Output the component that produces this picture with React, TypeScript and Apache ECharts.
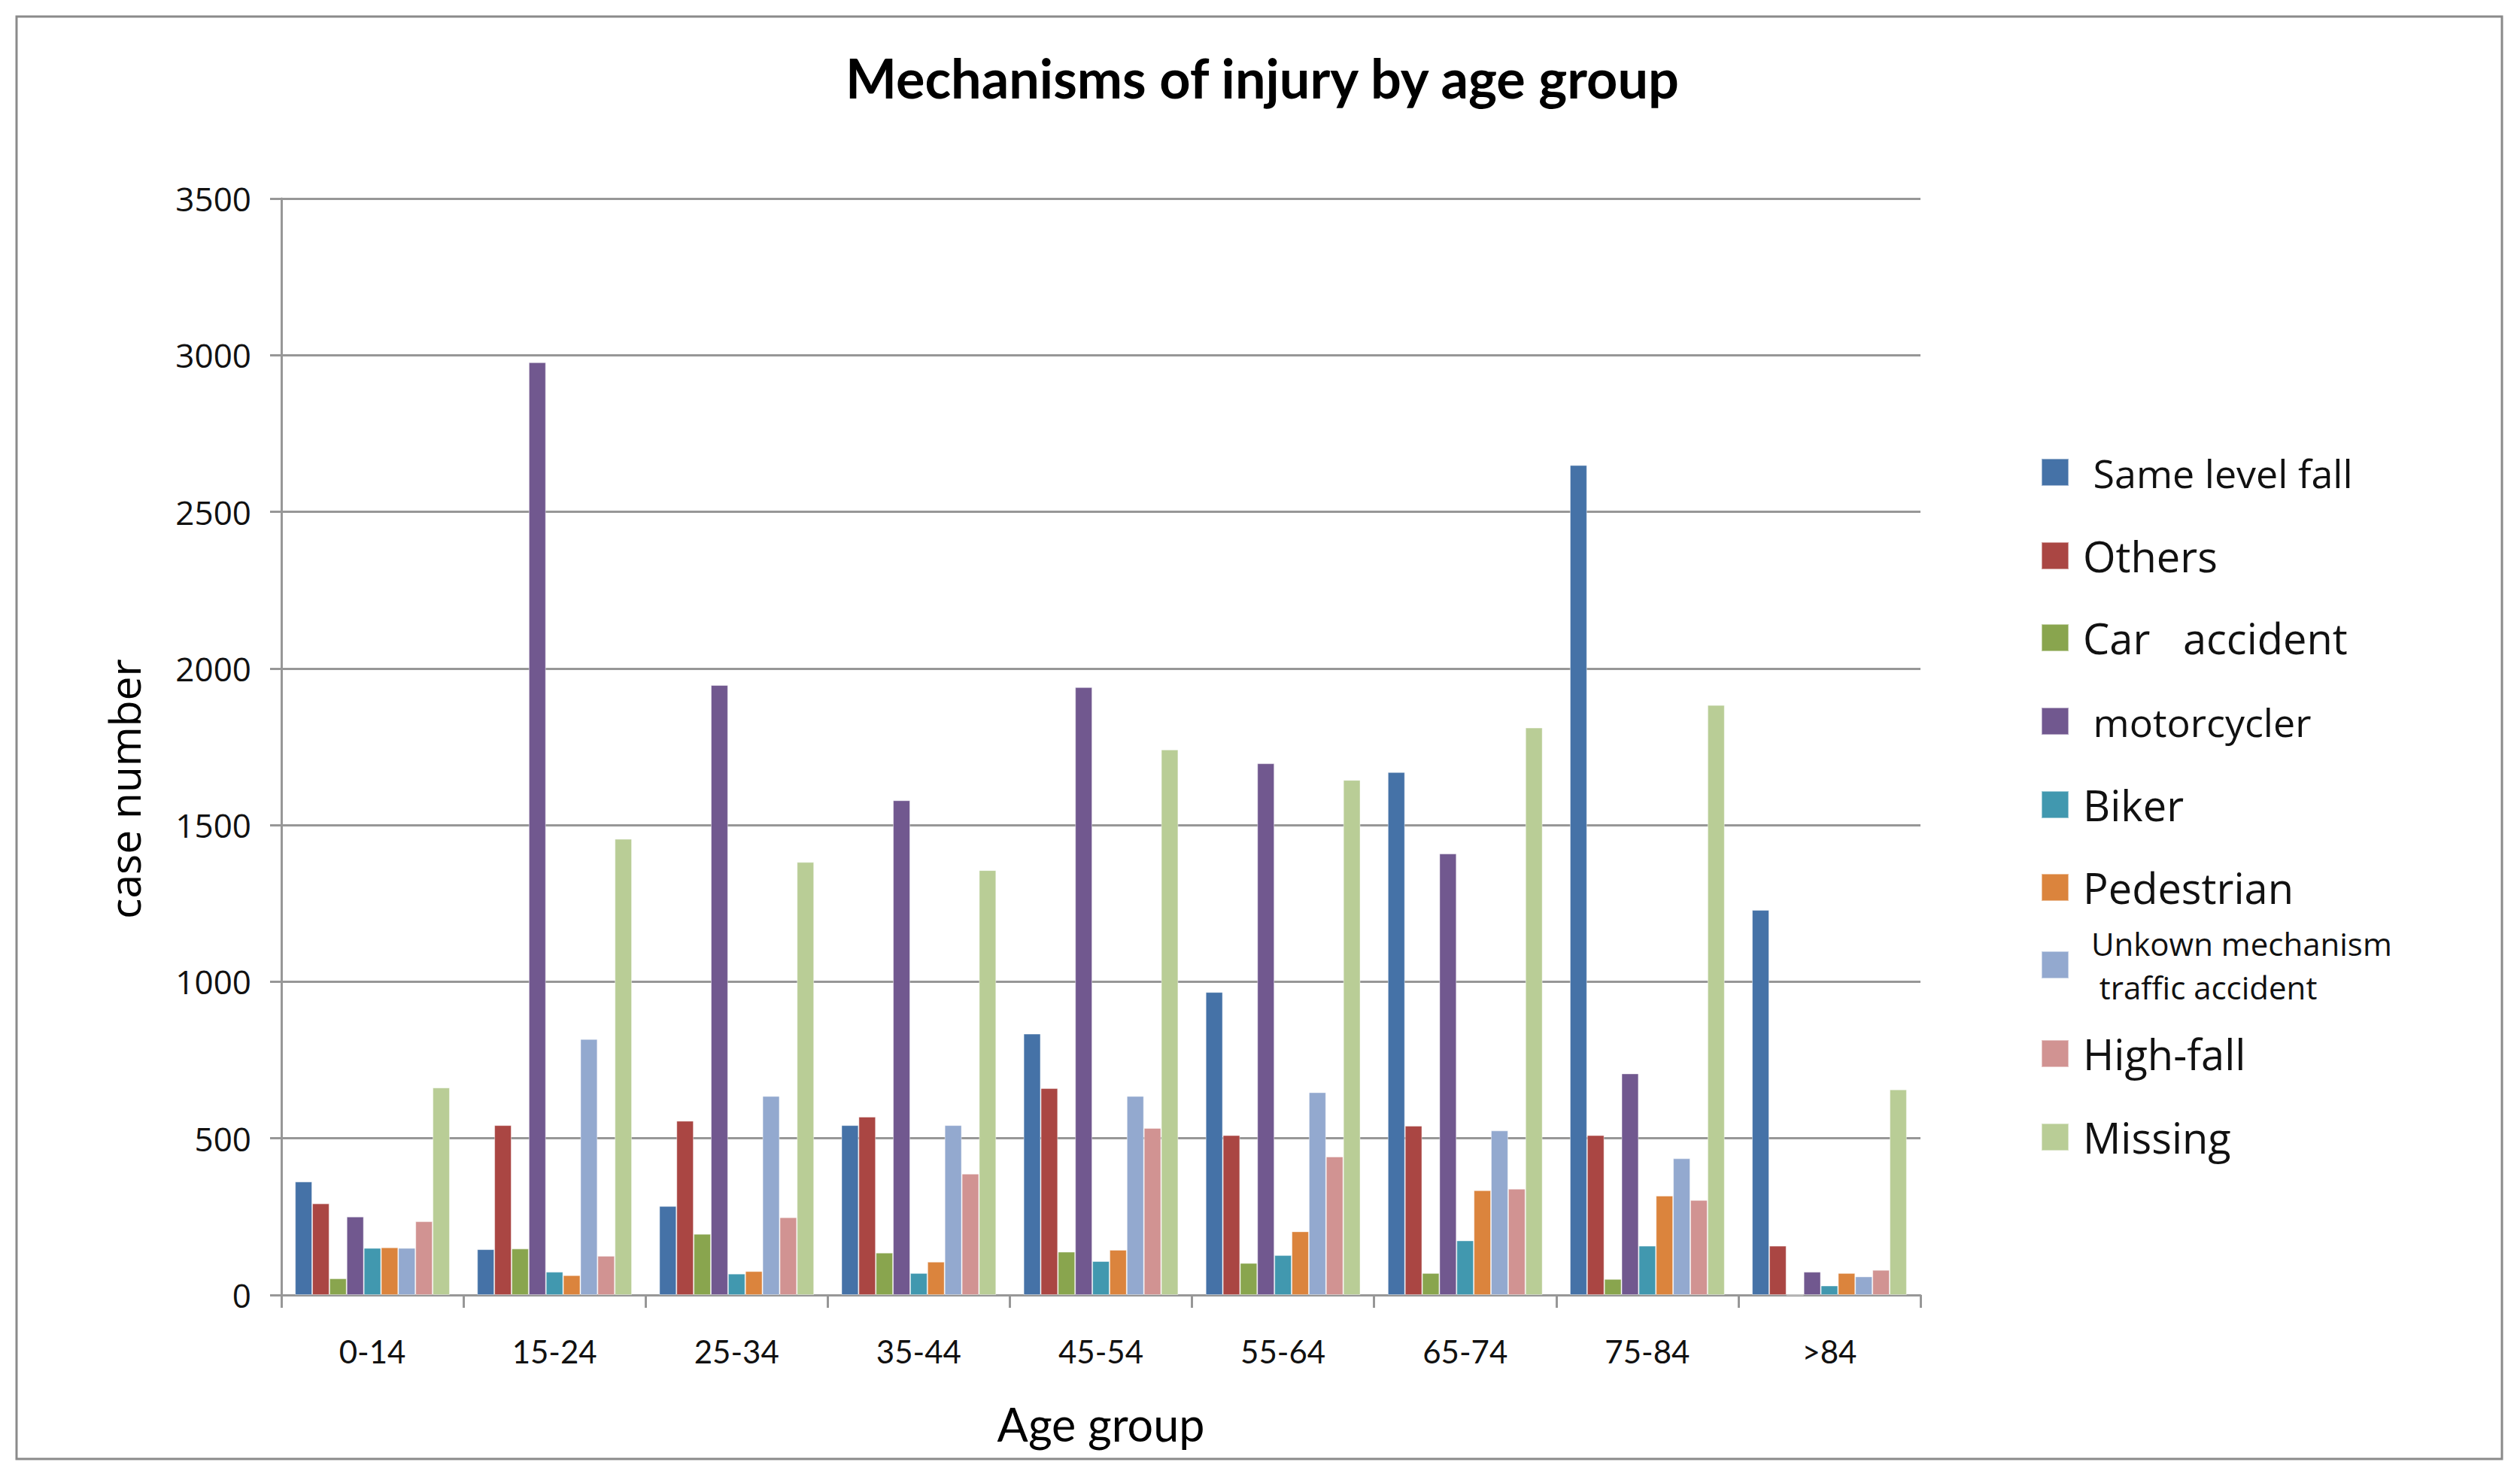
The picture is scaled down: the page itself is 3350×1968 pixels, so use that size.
import React, { useEffect, useRef } from "react";
import * as echarts from "echarts";

const categories = ["0-14", "15-24", "25-34", "35-44", "45-54", "55-64", "65-74", "75-84", ">84"];
const yTicks = [0, 500, 1000, 1500, 2000, 2500, 3000, 3500];

const sameLevelFall = [362, 146, 284, 542, 834, 967, 1669, 2649, 1229];
const others = [292, 542, 556, 569, 660, 510, 540, 510, 157];
const carAccident = [53, 148, 195, 135, 138, 102, 70, 51, 0];
const motorcycler = [250, 2977, 1947, 1579, 1940, 1697, 1409, 707, 74];
const biker = [150, 74, 68, 70, 108, 127, 174, 157, 30];
const pedestrian = [152, 63, 76, 106, 144, 203, 334, 317, 70];
const unknownTraffic = [150, 817, 635, 542, 635, 647, 525, 436, 59];
const highFall = [235, 125, 248, 387, 533, 442, 339, 303, 80];
const missing = [662, 1456, 1382, 1356, 1741, 1644, 1811, 1883, 656];

const seriesNames = [
  "Same level fall",
  "Others",
  "Car  accident",
  "motorcycler",
  "Biker",
  "Pedestrian",
  "Unkown mechanism traffic accident",
  "High-fall",
  "Missing",
];
const legendLabels = [
  " Same level fall",
  "Others",
  "Car   accident",
  " motorcycler",
  "Biker",
  "Pedestrian",
  " Unkown mechanism\n  traffic accident",
  "High-fall",
  "Missing",
];
const seriesColors = ["#4572A7", "#AA4643", "#89A54E", "#71588F", "#4198AF", "#DB843D", "#93A9CF", "#D19392", "#B9CD96"];
const seriesData = [sameLevelFall, others, carAccident, motorcycler, biker, pedestrian, unknownTraffic, highFall, missing];

const legendCenters = [628, 739, 848, 959, 1070, 1180, 1283, 1401, 1512];

export default function App() {
  const ref = useRef<HTMLDivElement>(null);
  useEffect(() => {
    if (!ref.current) return;
    const chart = echarts.init(ref.current, undefined, { renderer: "svg" });
    const gray = "#979797";
    const legends = seriesNames.map((name, i) => {
      const twoLine = i === 6;
      const fs = twoLine ? 42 : i === 0 || i === 3 ? 52 : 56;
      const lh = twoLine ? 58 : 70;
      const h = twoLine ? 116 : 70;
      return {
        orient: "vertical",
        left: 2713,
        top: legendCenters[i] - h / 2,
        padding: 0,
        itemWidth: 36,
        itemHeight: 36,
        icon: "rect",
        selectedMode: false,
        data: [name],
        formatter: () => legendLabels[i],
        textStyle: {
          fontFamily: "Open Sans",
          fontSize: fs,
          lineHeight: lh,
          color: "#111",
          padding: [0, 0, 0, 14],
        },
      };
    });
    chart.setOption({
      animation: false,
      backgroundColor: "#ffffff",
      title: {
        text: "Mechanisms of injury by age group",
        left: 1673,
        textAlign: "center",
        top: 62,
        textStyle: { fontFamily: "Lato", fontWeight: "bold", fontSize: 72, color: "#000" },
      },
      legend: legends,
      grid: { left: 374, right: 3350 - 2553, top: 264, bottom: 1968 - 1722, containLabel: false },
      xAxis: {
        type: "category",
        data: categories,
        name: "Age group",
        nameLocation: "middle",
        nameGap: 141,
        nameTextStyle: { fontFamily: "Lato", fontSize: 61, color: "#000" },
        axisLine: { show: true, lineStyle: { color: gray, width: 3 } },
        axisTick: { show: true, length: 17, alignWithLabel: false, lineStyle: { color: gray, width: 3 } },
        axisLabel: { fontFamily: "Lato", fontSize: 42, color: "#111", margin: 54 },
        splitLine: { show: false },
      },
      yAxis: {
        type: "value",
        min: yTicks[0],
        max: yTicks[yTicks.length - 1],
        interval: yTicks[1] - yTicks[0],
        axisLine: { show: true, lineStyle: { color: gray, width: 3 } },
        axisTick: { show: true, length: 15, inside: false, lineStyle: { color: gray, width: 3 } },
        axisLabel: {
          fontFamily: "Open Sans",
          fontSize: 44,
          color: "#111",
          margin: 40,
          formatter: (v: number) => String(v),
        },
        splitLine: { show: true, lineStyle: { color: gray, width: 3 } },
      },
      graphic: [
        {
          type: "rect",
          shape: { x: 22, y: 22, width: 3304, height: 1918 },
          style: { fill: "none", stroke: "#8a8a8a", lineWidth: 3 },
          silent: true,
        },
        {
          type: "text",
          x: 165,
          y: 1049,
          rotation: Math.PI / 2,
          silent: true,
          style: {
            text: "case number",
            fontFamily: "Open Sans",
            fontSize: 57,
            fill: "#000",
            align: "center",
            verticalAlign: "middle",
          },
        },
      ],
      series: seriesNames.map((name, i) => ({
        type: "bar",
        name,
        data: seriesData[i],
        barGap: "0%",
        barCategoryGap: "15%",
        itemStyle: { color: seriesColors[i], borderColor: "rgba(255,255,255,0.45)", borderWidth: 1 },
      })),
    });
    return () => chart.dispose();
  }, []);
  return <div ref={ref} style={{ position: "absolute", left: 0, top: 0, width: 3350, height: 1968 }} />;
}
